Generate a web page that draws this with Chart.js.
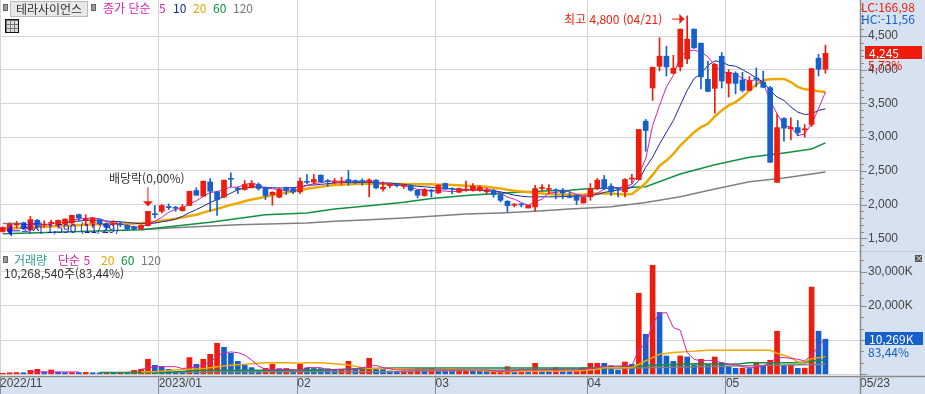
<!DOCTYPE html>
<html lang="ko">
<head>
<meta charset="UTF-8">
<title>테라사이언스</title>
<script src="https://cdn.jsdelivr.net/npm/chart.js@4"></script>
<style>
    html, body { margin: 0; padding: 0; background: #d6e2f0; overflow: hidden; }
    #wrap { position: relative; width: 925px; height: 394px; font-family: "Noto Sans CJK KR", sans-serif; font-size: 12px; }
    #priceChart { position: absolute; left: 0; top: 0; }
    #volumeChart { position: absolute; left: 0; top: 252px; }
    .t { position: absolute; white-space: nowrap; line-height: 14px; }
    .sq { position: absolute; width: 3px; height: 5px; background: #999; border: 1px solid #666; }
    #name { position: absolute; left: 10px; top: 1px; width: 76px; height: 14px; line-height: 14px; text-align: center; background: #e8e8e8; border: 1px solid #bbb; color: #333; }
    #grid { position: absolute; left: 5px; top: 19px; width: 12px; height: 12px; border: 1px solid #111; background-color: #ddd;
        background-image: linear-gradient(90deg, #777 1px, transparent 1px), linear-gradient(#777 1px, transparent 1px); background-size: 4px 4px; }
    #lastPrice { position: absolute; left: 865px; top: 46px; width: 53px; height: 13px; line-height: 13px; padding-left: 4px; background: #ee1c0c; color: #fff; }
    #lastVol { position: absolute; left: 865px; top: 332px; width: 54px; height: 13px; line-height: 13px; padding-left: 4px; background: #1560cc; color: #fff; }
    #close { position: absolute; left: 915px; top: 255px; width: 7px; height: 7px; line-height: 6px; font-size: 8px; text-align: center; background: #555; color: #fff; }
</style>
</head>
<body>
<div id="wrap">
    <canvas id="priceChart" width="925" height="252"></canvas>
    <canvas id="volumeChart" width="925" height="142"></canvas>

    <div class="sq" style="left:3px;top:4px"></div>
    <div id="name">테라사이언스</div>
    <div class="sq" style="left:91px;top:4px"></div>
    <div class="t" style="left:103px;top:1px;color:#d61fb5">종가 단순</div>
    <div class="t" style="left:159px;top:1px;color:#d61fb5">5</div>
    <div class="t" style="left:173px;top:1px;color:#1a2aa0">10</div>
    <div class="t" style="left:193px;top:1px;color:#e8a800">20</div>
    <div class="t" style="left:213px;top:1px;color:#109040">60</div>
    <div class="t" style="left:233px;top:1px;color:#777">120</div>
    <div id="grid"></div>

    <div class="t" style="left:861px;top:0;color:#ee1c0c">LC:166,98</div>
    <div class="t" style="left:861px;top:12px;color:#1560cc">HC:-11,56</div>
    <div id="lastPrice">4,245</div>
    <div class="t" style="left:868px;top:58px;color:#ee1c0c">5,73%</div>

    <div class="t" style="left:109px;top:171px;color:#333">배당락(0,00%)</div>
    <div class="t" style="left:564px;top:12px;color:#ee1c0c">최고 4,800 (04/21)</div>
    <div class="t" style="left:21px;top:221px;color:#1818ee">최저 1,590 (11/29)</div>

    <div class="sq" style="left:3px;top:256px"></div>
    <div class="t" style="left:14px;top:253px;color:#2e9c94">거래량</div>
    <div class="t" style="left:58px;top:253px;color:#d61fb5">단순 5</div>
    <div class="t" style="left:101px;top:253px;color:#e8a800">20</div>
    <div class="t" style="left:121px;top:253px;color:#109040">60</div>
    <div class="t" style="left:141px;top:253px;color:#777">120</div>
    <div class="t" style="left:4px;top:266px;color:#333">10,268,540주(83,44%)</div>

    <div id="lastVol">10,269K</div>
    <div class="t" style="left:868px;top:345px;color:#1560cc">83,44%</div>
    <div id="close">×</div>
</div>

<script>
    // price candles, oldest first
    const opens = [1600,1612,1695,1726,1627,1766,1695,1720,1692,1711,1726,1851,1770,1726,1776,1717,1715,1710,1692,1672,
        1636,1687,1865,1900,1970,1960,1910,1985,2208,2124,2337,2188,2114,2390,2240,2223,2248,2297,2248,2148,
        2109,2248,2238,2188,2345,2332,2436,2355,2325,2325,2372,2355,2355,2350,2362,2233,2280,2295,2272,2287,
        2213,2133,2215,2173,2312,2240,2183,2215,2208,2208,2190,2213,2148,2049,1990,2010,1950,1965,2240,2225,
        2220,2208,2120,2133,2024,2114,2238,2372,2273,2240,2188,2380,2369,3238,3730,4053,4202,3948,4043,4162,
        4604,4395,3859,3725,4202,3799,3948,3849,3695,3880,3819,3735,2329,3278,3125,3143,3110,3188,4172,4008];
    const highs = [1670,1730,1750,1740,1826,1780,1760,1770,1770,1790,1845,1860,1850,1805,1790,1730,1760,1745,1700,1680,
        1700,1900,1985,2000,2010,1975,2000,2198,2250,2347,2387,2200,2362,2471,2263,2357,2357,2322,2263,2190,
        2248,2260,2245,2395,2446,2446,2440,2372,2387,2407,2506,2365,2382,2382,2370,2337,2307,2312,2297,2297,
        2223,2238,2223,2297,2320,2248,2245,2347,2312,2282,2248,2223,2173,2059,2014,2014,1990,2287,2297,2297,
        2233,2238,2188,2143,2109,2312,2387,2432,2313,2248,2387,2450,3114,3263,4038,4475,4350,4216,4604,4800,
        4604,4395,4127,4092,4256,4003,3970,3963,3900,4028,3978,3755,3342,3290,3288,3248,3188,4018,4231,4365];
    const lows = [1590,1600,1650,1630,1612,1650,1660,1680,1680,1705,1720,1760,1690,1660,1700,1630,1680,1670,1620,1625,
        1630,1680,1800,1875,1925,1900,1900,1985,2138,2120,1900,1840,2100,2263,2163,2213,2248,2213,2074,1990,
        2100,2148,2160,2160,2307,2307,2330,2272,2307,2297,2287,2307,2287,2114,2233,2198,2248,2262,2238,2198,
        2099,2124,2114,2163,2228,2158,2175,2198,2198,2198,2158,2109,2039,1890,1965,1965,1945,1900,2198,2163,
        2084,2084,2099,2000,2020,2064,2220,2222,2134,2114,2114,2320,2369,2791,3546,3983,3908,3940,3983,4092,
        4316,3715,3670,3357,3730,3596,3645,3670,3690,3745,3735,2627,2329,2940,2960,3020,3000,3160,3908,3948];
    const closes = [1660,1710,1715,1642,1776,1692,1710,1736,1766,1785,1840,1800,1785,1800,1717,1660,1726,1700,1636,1636,
        1692,1900,1850,1985,1955,1945,1965,2198,2138,2347,2198,2074,2362,2375,2225,2297,2312,2238,2134,2183,
        2223,2213,2188,2347,2330,2372,2337,2340,2340,2340,2337,2340,2340,2365,2248,2258,2295,2280,2290,2213,
        2138,2223,2200,2287,2228,2230,2238,2230,2273,2258,2205,2148,2064,1984,2008,1995,1989,2238,2255,2240,
        2205,2173,2105,2064,2109,2238,2362,2238,2188,2230,2372,2395,3114,3099,4038,4202,4043,4023,4604,4455,
        4326,3894,3680,4082,3834,3963,3799,3695,3834,3860,3740,2627,3143,3134,3145,3069,3125,4018,4008,4245];

    // price moving averages
    const ma5 = [null,null,null,null,1700,1708,1705,1710,1736,1738,1767,1785,1795,1805,1788,1752,1720,1712,1690,1665,
        1665,1715,1750,1810,1885,1930,1945,2010,2055,2120,2180,2190,2225,2260,2255,2300,2315,2295,2240,2235,
        2220,2205,2200,2240,2285,2310,2325,2345,2350,2345,2350,2345,2345,2345,2330,2310,2300,2290,2280,2260,
        2225,2215,2200,2210,2200,2190,2200,2210,2230,2230,2230,2210,2170,2110,2080,2030,1990,2040,2080,2173,
        2180,2200,2190,2150,2130,2130,2170,2230,2250,2250,2260,2305,2453,2677,3173,3470,3745,3918,4192,4281,
        4291,4266,4192,4067,3968,3958,3943,3869,3834,3854,3804,3546,3347,3173,3149,3024,3049,3198,3422,3670];
    const ma10 = [null,null,null,null,null,null,null,null,null,1725,1745,1755,1765,1770,1765,1755,1750,1745,1735,1725,
        1715,1720,1725,1745,1760,1785,1825,1880,1925,1975,2030,2075,2120,2170,2220,2245,2260,2265,2250,2250,
        2245,2250,2250,2265,2285,2290,2300,2310,2320,2325,2330,2330,2330,2330,2325,2320,2320,2310,2300,2285,
        2270,2265,2255,2245,2240,2230,2225,2220,2215,2215,2205,2200,2190,2165,2140,2125,2115,2115,2115,2115,
        2115,2120,2125,2125,2125,2130,2150,2180,2200,2215,2225,2255,2354,2552,2702,2900,3074,3248,3471,3695,
        3869,3943,4067,4132,4117,4067,4053,4003,3943,3879,3819,3695,3596,3546,3447,3372,3337,3347,3397,3422];
    const ma20 = [1640,1645,1650,1655,1660,1665,1670,1675,1680,1685,1690,1695,1700,1705,1708,1710,1712,1715,1715,1718,
        1725,1735,1745,1760,1775,1790,1810,1830,1850,1880,1910,1935,1965,1995,2020,2050,2075,2095,2115,2140,
        2160,2180,2195,2215,2235,2250,2265,2280,2290,2295,2300,2305,2310,2310,2310,2310,2305,2305,2305,2300,
        2300,2300,2300,2295,2295,2290,2285,2280,2275,2270,2265,2250,2240,2220,2205,2195,2185,2170,2165,2155,
        2150,2150,2145,2145,2150,2160,2165,2165,2160,2155,2150,2155,2230,2320,2440,2577,2652,2751,2875,2975,
        3074,3149,3198,3307,3397,3471,3521,3596,3695,3784,3844,3859,3864,3864,3819,3745,3710,3705,3680,3670];
    const ma60Idx = [0,20,22,30,38,44,48,53,58,62,67,72,77,82,84,93,98,103,108,113,117,119];
    const ma60 = [1568,1627,1647,1736,1850,1875,1935,1984,2034,2089,2133,2168,2198,2213,2230,2265,2453,2592,2702,2766,2826,2915];
    const ma120Idx = [0,3,4,20,24,34,44,48,53,58,62,67,72,77,82,84,88,93,98,103,108,113,117,119];
    const ma120 = [1720,1720,null,1627,1652,1701,1726,1751,1776,1801,1825,1860,1875,1900,1935,1947,1967,2031,2116,2230,2339,2394,2453,2483];

    // volume in K shares
    const volumes = [300,450,500,450,1170,1460,700,1270,600,500,520,500,550,450,400,450,400,430,400,1170,
        1460,4390,2630,2140,1460,780,750,4875,2925,4390,5850,9070,7900,6140,3800,2630,1950,975,1755,2925,
        1660,1700,975,2925,1850,1700,1660,1640,1170,1200,3800,1660,1700,4680,1460,1400,975,600,975,1000,
        1660,1600,1660,975,950,900,975,1000,975,950,900,975,1000,2240,975,1000,950,3200,975,950,
        1950,975,950,975,1950,3200,3250,3220,2440,1270,3600,2925,23700,11700,31900,18100,5360,3800,5360,5070,
        2630,4390,2925,5070,3410,2145,1755,1800,1700,3410,2440,4100,12600,2630,2650,1755,1800,25500,12600,10269];
    const volMa5Idx = [4,11,12,20,22,25,26,27,28,29,30,31,32,33,34,35,36,37,38,39,41,43,44,46,47,51,53,54,55,57,62,66,70,72,75,83,86,87,91,92,93,94,95,96,97,98,99,100,101,102,103,104,105,106,107,108,109,110,111,112,113,114,115,116,117,118,119];
    const volMa5 = [680,680,null,1460,2240,2240,1660,1950,2145,2630,3410,5360,6340,6530,6340,5650,4190,2440,1460,1270,1460,1170,1950,1950,1270,1660,2240,2630,1950,1270,1270,1270,1270,780,1270,1270,1950,2440,2440,7310,8775,14625,17840,18040,13650,12870,6340,4390,3900,4095,3900,3410,2925,2925,2240,1950,1950,2440,3410,4875,4875,4680,4390,3900,5560,8290,10430];
    const volMa20Idx = [20,22,25,27,29,31,33,36,38,41,43,44,46,48,50,52,53,56,62,65,72,83,86,87,91,92,94,95,97,99,102,111,112,113,114,115,116,117,118,119];
    const volMa20 = [780,780,1270,1460,1660,2240,2630,3120,3410,3410,3220,3410,3410,3120,2730,1950,1660,1660,1270,1460,780,1000,1500,1950,1950,2925,4875,5850,6340,6630,7020,7020,6140,5560,4875,3600,3600,4580,4875,5170];
    const volMa60Idx = [14,24,28,45,56,84,87,94,100,106,108,116,117,119];
    const volMa60 = [490,490,1170,1200,1850,1850,1950,2630,3120,2925,3410,3410,3900,4190];
    const volMa120Idx = [18,44,56,87,106,119];
    const volMa120 = [490,780,780,1660,2440,2925];

    // axes
    const monthTicks = [-0.4,22.55,42.6,62.6,84.6,104.6,124];
    const monthLabels = ['2022/11','2023/01','02','03','04','05','05/23'];
    const priceTicks = [1300,1400,1500,1600,1700,1800,1900,2000,2100,2200,2300,2400,2500,2600,2700,2800,2900,3000,3100,3200,3300,3400,3500,3600,3700,3800,3900,4000,4100,4200,4300,4400,4500,4600,4700,4800,4900];
    const volumeTicks = [0,3333,6667,10000,13333,16667,20000,23333,26667,30000,33333];

    // annotation arrows [index, price]
    const dividendArrow = [[21,2258],[21,1975]];
    const highArrow = [[96.8,4753],[98.6,4753]];
    const lowArrow = [[2.5,1610],[0.6,1610]];

    const RED = '#ee1c0c';
    const BLUE = '#1560cc';
    const AXIS = '#8c8c8c';
    const GRID = '#d4d4d4';
    const FONT = { family: '"Liberation Sans", sans-serif', size: 12 };

    const xy = (idx, vals) => vals.map((v, i) => ({ x: idx ? idx[i] : i, y: v }));
    const candleColors = closes.map((c, i) => (c >= opens[i] ? RED : BLUE));
    const volumeColors = volumes.map((v, i) => (i === 0 || v >= volumes[i - 1] ? RED : BLUE));

    function lineSet(data, color, width, order) {
        return { type: 'line', data, borderColor: color, borderWidth: width, pointRadius: 0, tension: 0, order };
    }

    function barSet(data, colors, thickness, order) {
        return { type: 'bar', data, backgroundColor: colors, barThickness: thickness, grouped: false, borderWidth: 0, order };
    }

    function setTicks(values) {
        return scale => { scale.ticks = values.map(v => ({ value: v })); };
    }

    // the plot has to fill its pane edge to edge
    function noPadding(s) {
        s.paddingTop = 0;
        s.paddingBottom = 0;
        s.paddingLeft = 0;
        s.paddingRight = 0;
    }

    // white plot area, axis rule and the short/long marks of the value axis
    const panePlugin = {
        id: 'pane',
        beforeDraw(chart) {
            const a = chart.chartArea;
            chart.ctx.fillStyle = '#fff';
            chart.ctx.fillRect(a.left, a.top, a.right - a.left, a.bottom - a.top);
        },
        afterDraw(chart, args, opts) {
            const { ctx, chartArea: a, scales } = chart;
            ctx.save();
            ctx.strokeStyle = AXIS;
            ctx.lineWidth = 1;
            ctx.beginPath();
            scales.y.ticks.forEach(t => {
                const py = Math.round(scales.y.getPixelForValue(t.value)) + 0.5;
                if (py < a.top || py > a.bottom) return;
                const len = t.value % opts.major === 0 ? 6 : 3;
                ctx.moveTo(a.right + 1, py);
                ctx.lineTo(a.right + 1 + len, py);
            });
            ctx.stroke();
            ctx.lineWidth = 1.5;
            ctx.beginPath();
            ctx.moveTo(a.right + 0.5, 0);
            ctx.lineTo(a.right + 0.5, chart.height);
            ctx.moveTo(0, a.bottom + 0.5);
            ctx.lineTo(chart.width, a.bottom + 0.5);
            ctx.stroke();
            ctx.restore();
        }
    };

    function drawArrow(chart, points, color, head, headWide) {
        const { ctx, scales } = chart;
        const x0 = scales.x.getPixelForValue(points[0][0]);
        const y0 = scales.y.getPixelForValue(points[0][1]);
        const x1 = scales.x.getPixelForValue(points[1][0]);
        const y1 = scales.y.getPixelForValue(points[1][1]);
        const ang = Math.atan2(y1 - y0, x1 - x0);
        ctx.save();
        ctx.strokeStyle = color;
        ctx.fillStyle = color;
        ctx.lineWidth = 1;
        ctx.beginPath();
        ctx.moveTo(x0, y0);
        ctx.lineTo(x1, y1);
        ctx.stroke();
        ctx.translate(x1, y1);
        ctx.rotate(ang);
        ctx.beginPath();
        ctx.moveTo(0, 0);
        ctx.lineTo(-head, -headWide);
        ctx.lineTo(-head, headWide);
        ctx.closePath();
        ctx.fill();
        ctx.restore();
    }

    const arrowPlugin = {
        id: 'arrows',
        afterDatasetsDraw(chart) {
            drawArrow(chart, dividendArrow, RED, 5, 5);
            drawArrow(chart, highArrow, RED, 5, 5);
            drawArrow(chart, lowArrow, '#1818ee', 5, 6);
        }
    };

    function baseOptions(yMin, yMax, yTicks, gridStep, major, showMonths) {
        return {
            responsive: false,
            animation: false,
            events: [],
            layout: { padding: 0, autoPadding: false },
            plugins: { legend: { display: false }, tooltip: { enabled: false }, pane: { major } },
            scales: {
                x: {
                    type: 'linear',
                    offset: false,
                    min: -0.4,
                    max: 124,
                    afterBuildTicks: setTicks(monthTicks),
                    afterFit: s => { s.height = showMonths ? 18 : 0; noPadding(s); },
                    border: { display: false },
                    grid: {
                        offset: false,
                        color: GRID,
                        lineWidth: 1,
                        drawTicks: showMonths,
                        tickLength: 18,
                        tickColor: AXIS,
                        tickWidth: 1
                    },
                    ticks: {
                        display: showMonths,
                        autoSkip: false,
                        maxRotation: 0,
                        align: 'start',
                        padding: -18,
                        color: '#444',
                        font: FONT,
                        callback: (v, i) => monthLabels[i]
                    }
                },
                y: {
                    position: 'right',
                    min: yMin,
                    max: yMax,
                    afterBuildTicks: setTicks(yTicks),
                    afterFit: s => { s.width = 65; noPadding(s); },
                    border: { display: false },
                    grid: {
                        color: ctx => (ctx.tick && ctx.tick.value % gridStep === 0 ? GRID : 'rgba(0,0,0,0)'),
                        lineWidth: 1,
                        drawTicks: false
                    },
                    ticks: {
                        autoSkip: false,
                        crossAlign: 'near',
                        padding: 8,
                        color: '#444',
                        font: FONT,
                        callback: v => (v % major === 0 && v > 0 ? v.toLocaleString('en-US') + (major === 10000 ? 'K' : '') : '')
                    }
                }
            }
        };
    }

    document.addEventListener('DOMContentLoaded', () => {
        new Chart(document.getElementById('priceChart').getContext('2d'), {
            data: {
                datasets: [
                    barSet(xy(null, highs.map((h, i) => [lows[i], h])), candleColors, 1, 1),
                    barSet(xy(null, opens.map((o, i) => [o, closes[i]])), candleColors, 5, 0),
                    lineSet(xy(ma120Idx, ma120), '#808080', 1.5, 6),
                    lineSet(xy(ma60Idx, ma60), '#109040', 1.5, 5),
                    lineSet(xy(null, ma20), '#eea800', 2.5, 4),
                    lineSet(xy(null, ma10), '#1a2aa0', 1, 3),
                    lineSet(xy(null, ma5), '#d61fb5', 1, 2)
                ]
            },
            options: baseOptions(1296, 5036, priceTicks, 500, 500, false),
            plugins: [panePlugin, arrowPlugin]
        });

        new Chart(document.getElementById('volumeChart').getContext('2d'), {
            data: {
                datasets: [
                    barSet(xy(null, volumes), volumeColors, 5, 5),
                    lineSet(xy(volMa120Idx, volMa120), '#808080', 1.5, 4),
                    lineSet(xy(volMa60Idx, volMa60), '#109040', 1.5, 3),
                    lineSet(xy(volMa20Idx, volMa20), '#eea800', 1.5, 2),
                    lineSet(xy(volMa5Idx, volMa5), '#d61fb5', 1, 1)
                ]
            },
            options: baseOptions(-497, 35760, volumeTicks, 10000, 10000, true),
            plugins: [panePlugin]
        });
    });
</script>
</body>
</html>
